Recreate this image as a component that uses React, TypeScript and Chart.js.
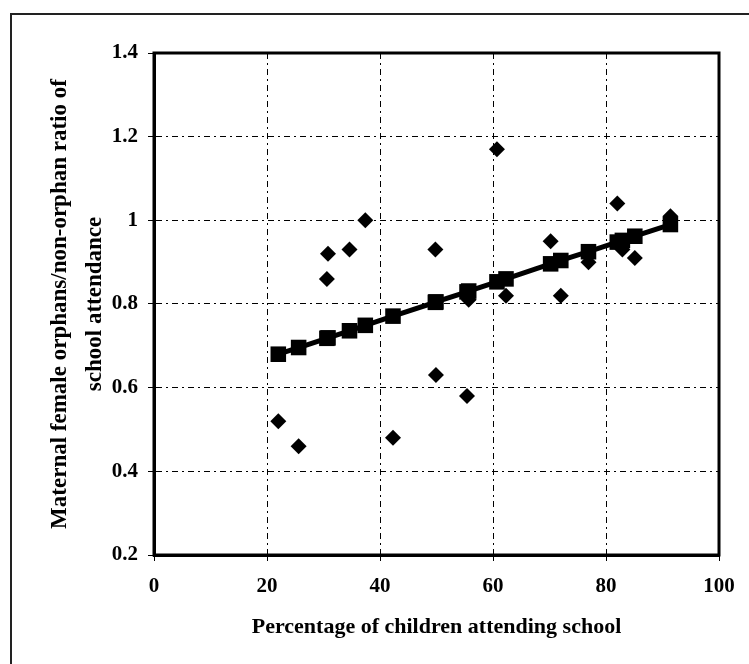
import React, { useEffect, useRef } from "react";
import { Chart, registerables } from "chart.js";

Chart.register(...registerables);

// Percentage of children attending school (x) for each country
const schoolAttendance = [22.0, 25.6, 30.6, 30.8, 34.6, 37.4, 42.3, 49.8, 49.9, 55.4, 55.7, 60.7, 62.3, 70.2, 72.0, 76.9, 82.0, 82.9, 85.1, 91.4];
// Observed maternal female orphan / non-orphan ratio (diamonds)
const orphanRatio = [0.52, 0.46, 0.86, 0.92, 0.93, 1.0, 0.48, 0.93, 0.63, 0.58, 0.81, 1.17, 0.82, 0.95, 0.82, 0.9, 1.04, 0.93, 0.91, 1.01];
// Fitted ratio (squares on the trend line)
const fittedRatio = [0.68, 0.696, 0.718, 0.719, 0.736, 0.749, 0.771, 0.804, 0.805, 0.829, 0.831, 0.853, 0.86, 0.896, 0.904, 0.925, 0.948, 0.952, 0.962, 0.99];

const xTickValues = [0, 20, 40, 60, 80, 100];
const xTickLabels = ["0", "20", "40", "60", "80", "100"];
const yTickValues = [0.2, 0.4, 0.6, 0.8, 1.0, 1.2, 1.4];
const yTickLabels = ["0.2", "0.4", "0.6", "0.8", "1", "1.2", "1.4"];

const xTitle = "Percentage of children attending school";
const yTitle = ["Maternal female orphans/non-orphan ratio of", "school attendance"];

const FONT = "'Liberation Serif', 'Times New Roman', serif";

export default function App() {
  const ref = useRef<HTMLCanvasElement | null>(null);

  useEffect(() => {
    if (!ref.current) return;
    const labelFor = (vals: number[], labels: string[], v: number) => {
      const i = vals.findIndex((t) => Math.abs(t - v) < 1e-6);
      return i >= 0 ? labels[i] : "";
    };
    const frame = {
      id: "frame",
      afterDatasetsDraw(chart: any) {
        const { ctx, chartArea } = chart;
        ctx.save();
        ctx.strokeStyle = "#000";
        ctx.lineWidth = 3;
        ctx.strokeRect(chartArea.left, chartArea.top, chartArea.right - chartArea.left, chartArea.bottom - chartArea.top);
        ctx.restore();
      },
    };
    const chart = new Chart(ref.current, {
      type: "scatter",
      data: {
        datasets: [
          {
            label: "Observed",
            data: schoolAttendance.map((x, i) => ({ x, y: orphanRatio[i] })),
            pointStyle: "rectRot",
            pointRadius: 8,
            pointHoverRadius: 8,
            backgroundColor: "#000",
            borderColor: "#000",
            borderWidth: 0,
            showLine: false,
            order: 2,
          },
          {
            label: "Fitted",
            data: schoolAttendance.map((x, i) => ({ x, y: fittedRatio[i] })),
            pointStyle: "rect",
            pointRadius: 11,
            pointHoverRadius: 11,
            backgroundColor: "#000",
            borderColor: "#000",
            borderWidth: 5,
            pointBorderWidth: 0,
            showLine: true,
            order: 1,
          } as any,
        ],
      },
      options: {
        animation: false,
        responsive: true,
        maintainAspectRatio: false,
        layout: { padding: { top: 53, right: 30, left: 0, bottom: 0 } },
        plugins: { legend: { display: false }, tooltip: { enabled: false } },
        scales: {
          x: {
            type: "linear",
            min: 0,
            max: 100,
            afterFit: (s: any) => {
              s.height = 109;
            },
            afterBuildTicks: (s: any) => {
              s.ticks = xTickValues.map((v) => ({ value: v }));
            },
            ticks: {
              color: "#000",
              font: { family: FONT, size: 21, weight: "bold" },
              padding: 13,
              maxRotation: 0,
              callback: (v: any) => labelFor(xTickValues, xTickLabels, Number(v)),
            },
            grid: {
              color: "#000",
              lineWidth: 1,
              tickLength: 6,
              tickColor: "#000",
              tickWidth: 1,
              tickBorderDash: [],
            },
            border: { display: true, color: "#000", width: 3, dash: [6, 4, 2, 4] },
            title: {
              display: true,
              text: xTitle,
              color: "#000",
              font: { family: FONT, size: 22, weight: "bold" },
              padding: { top: 0, bottom: 23 },
            },
          },
          y: {
            type: "linear",
            min: 0.2,
            max: 1.4,
            afterFit: (s: any) => {
              s.width = 154;
            },
            afterBuildTicks: (s: any) => {
              s.ticks = yTickValues.map((v) => ({ value: v }));
            },
            ticks: {
              color: "#000",
              font: { family: FONT, size: 21, weight: "bold" },
              padding: 10,
              callback: (v: any) => labelFor(yTickValues, yTickLabels, Number(v)),
            },
            grid: {
              color: "#000",
              lineWidth: 1,
              tickLength: 6,
              tickColor: "#000",
              tickWidth: 1,
              tickBorderDash: [],
            },
            border: { display: true, color: "#000", width: 3, dash: [6, 4, 2, 4] },
            title: {
              display: true,
              text: yTitle,
              color: "#000",
              font: { family: FONT, size: 23, weight: "bold", lineHeight: 1.55 },
              padding: { top: 42, bottom: 0 },
            },
          },
        },
      },
      plugins: [frame],
    } as any);
    return () => chart.destroy();
  }, []);

  return (
    <div style={{ position: "absolute", left: 0, top: 0, width: 749, height: 664, background: "#fff" }}>
      <div
        style={{
          position: "absolute",
          left: 10,
          top: 13,
          right: 0,
          bottom: 0,
          borderTop: "2px solid #222",
          borderLeft: "2px solid #222",
        }}
      />
      <canvas ref={ref} style={{ position: "absolute", left: 0, top: 0, width: 749, height: 664 }} />
    </div>
  );
}
